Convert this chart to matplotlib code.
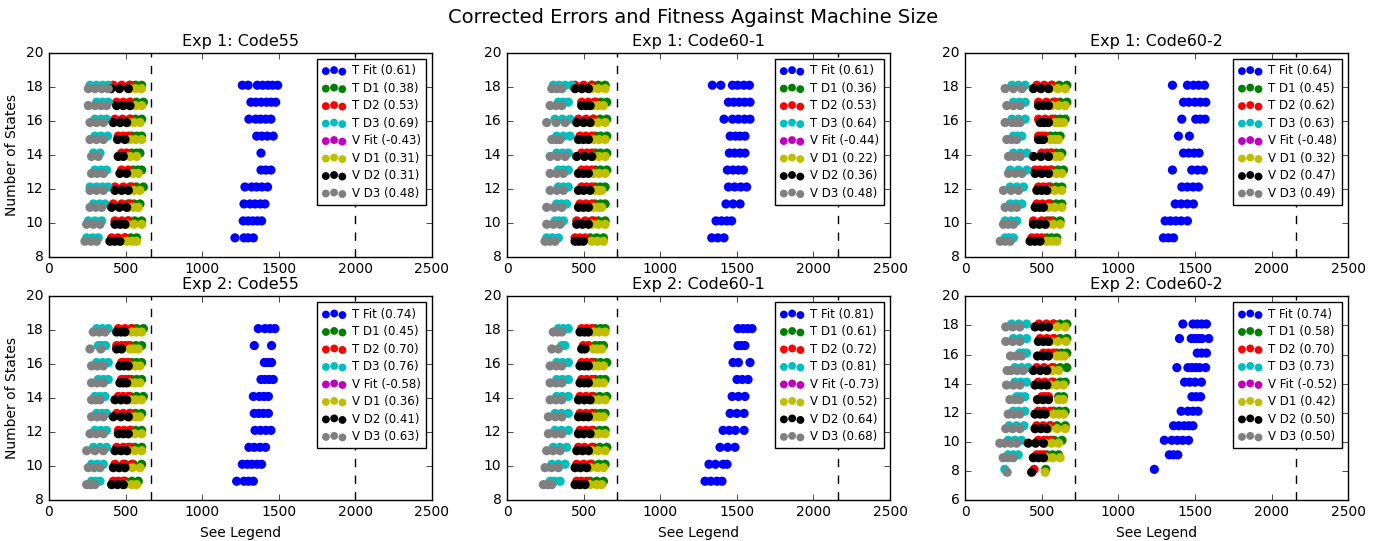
import matplotlib
matplotlib.use("Agg")
import matplotlib.pyplot as plt

# number of states on the y axis (one row of points per value)
states_9 = list(range(9, 19))
states_8 = list(range(8, 19))

series_names = ["T Fit", "T D1", "T D2", "T D3", "V Fit", "V D1", "V D2", "V D3"]
series_colors = ["b", "g", "r", "c", "m", "y", "k", "0.5"]

# machine sizes per row (rows go from the lowest state count upward)
exp1_code55 = {
    "T Fit": [[1214, 1273, 1300, 1334], [1268, 1300, 1330, 1360, 1388], [1273, 1312, 1345, 1380, 1410],
              [1279, 1323, 1355, 1390, 1427], [1384, 1415, 1449], [1384], [1356, 1390, 1425, 1464],
              [1305, 1349, 1380, 1415, 1449], [1318, 1350, 1385, 1420, 1450, 1480],
              [1262, 1300, 1360, 1395, 1430, 1460, 1493]],
    "T D1": [[496, 535, 572], [518, 560, 605], [518, 555, 594], [529, 570, 616], [550, 580, 605],
             [540, 570, 594], [540, 575, 605], [529, 565, 605], [529, 570, 616], [529, 565, 605]],
    "T D2": [[409, 450, 496], [431, 475, 518], [420, 475, 529], [431, 485, 540], [474, 518],
             [474, 507], [452, 485, 518], [431, 480, 529], [442, 485, 529], [420, 475, 529]],
    "T D3": [[246, 285, 322], [257, 300, 344], [290, 330, 366], [268, 310, 350, 387], [300, 340, 376],
             [290, 333], [300, 340, 383], [300, 340, 376], [311, 350, 387], [268, 310, 350, 387]],
    "V Fit": [],
    "V D1": [[474, 510, 545, 572], [507, 555, 605], [518, 550, 583], [518, 555, 594], [550, 583],
             [529, 572], [529, 565, 605], [518, 555, 594], [529, 565, 605], [529, 565, 605]],
    "V D2": [[398, 430, 463], [431, 465, 496], [409, 460, 507], [431, 475, 518], [463, 507],
             [452, 485], [448, 496], [420, 465, 507], [442, 485, 529], [405, 460, 518]],
    "V D3": [[235, 275, 311], [246, 290, 333], [268, 305, 344], [268, 310, 355], [278, 315, 355],
             [278, 322], [268, 310, 355], [268, 310, 355], [257, 300, 340, 376], [257, 300, 345, 387]],
}

exp1_code60_1 = {
    "T Fit": [[1336, 1375, 1416], [1364, 1400, 1435, 1466], [1429, 1475, 1521], [1445, 1485, 1525, 1564],
              [1438, 1475, 1510, 1543], [1451, 1485, 1520, 1553], [1456, 1490, 1520, 1553],
              [1416, 1471, 1510, 1550, 1586], [1445, 1480, 1515, 1550, 1586],
              [1340, 1395, 1471, 1505, 1545, 1582]],
    "T D1": [[542, 585, 629], [553, 595, 640], [575, 610, 640], [575, 608, 640], [575, 610, 651],
             [575, 610, 651], [575, 610, 651], [564, 608, 651], [575, 612, 651], [553, 595, 640]],
    "T D2": [[444, 475, 509], [455, 510, 564], [476, 515, 553], [487, 520, 553], [487, 520, 553],
             [487, 520, 553], [476, 515, 553], [466, 515, 564], [487, 530, 575], [444, 500, 553]],
    "T D3": [[259, 297, 335], [313, 340, 368], [324, 356, 389], [335, 368, 400], [335, 368, 400],
             [324, 362, 400], [324, 368, 411], [313, 362, 411], [335, 368, 400], [302, 340, 380, 422]],
    "V Fit": [],
    "V D1": [[553, 590, 629], [553, 595, 640], [564, 595, 618], [575, 600, 618], [564, 600, 640],
             [564, 600, 640], [564, 600, 640], [553, 595, 640], [564, 597, 629], [553, 595, 640]],
    "V D2": [[444, 470, 498], [455, 492, 531], [466, 498, 531], [466, 500, 542], [466, 498, 531],
             [455, 505, 553], [466, 498, 531], [455, 500, 542], [487, 515, 542], [444, 488, 531]],
    "V D3": [[248, 280, 313], [259, 302, 346], [259, 308, 357], [281, 325, 368], [281, 325, 368],
             [281, 330, 379], [292, 320, 346], [259, 320, 379], [281, 320, 357], [292, 325, 357]],
}

exp1_code60_2 = {
    "T Fit": [[1294, 1327, 1360], [1305, 1340, 1375, 1410, 1451], [1371, 1410, 1450, 1490],
              [1414, 1450, 1487, 1523], [1353, 1479, 1517, 1555], [1425, 1460, 1495, 1527],
              [1392, 1464], [1414, 1505, 1535, 1566], [1425, 1460, 1500, 1535, 1571],
              [1353, 1451, 1490, 1525, 1562]],
    "T D1": [[533, 565, 598], [533, 575, 620], [555, 595, 631], [555, 595, 631], [566, 605, 642],
             [555, 595, 631], [555, 588, 620], [587, 620, 653], [577, 620, 664], [566, 615, 664]],
    "T D2": [[435, 468, 500], [446, 500, 555], [468, 505, 544], [479, 511, 544], [457, 489, 522, 555],
             [500, 533, 566], [479, 500, 522], [479, 522, 566], [479, 530, 587], [468, 517, 566]],
    "T D3": [[261, 288, 315], [261, 300, 337], [294, 332, 370], [294, 338, 381], [294, 348, 403],
             [315, 360, 403], [315, 343, 370], [305, 348, 392], [315, 354, 392], [305, 348, 392]],
    "V Fit": [],
    "V D1": [[533, 565, 598], [533, 575, 620], [544, 585, 631], [544, 585, 631], [555, 595, 631],
             [555, 590, 620], [555, 582, 609], [587, 615, 642], [566, 610, 653], [555, 605, 653]],
    "V D2": [[424, 456, 489], [446, 484, 522], [457, 484, 511], [468, 500, 533], [457, 500, 544],
             [446, 495, 544], [479, 495, 511], [490, 517, 544], [479, 511, 544], [446, 495, 544]],
    "V D3": [[229, 262, 294], [250, 282, 315], [261, 300, 337], [250, 300, 348], [283, 326, 370],
             [283, 320, 359], [272, 305, 337], [261, 305, 332, 359], [272, 315, 359], [261, 315, 370]],
}

exp2_code55 = {
    "T Fit": [[1225, 1273, 1303, 1334], [1262, 1295, 1325, 1358, 1388], [1305, 1340, 1378, 1414],
              [1345, 1380, 1415, 1449], [1340, 1370, 1400, 1432], [1334, 1373, 1403, 1432],
              [1384, 1410, 1438, 1464], [1406, 1430, 1453], [1340, 1453], [1366, 1410, 1443, 1475]],
    "T D1": [[496, 540, 583], [496, 550, 605], [518, 560, 605], [529, 565, 605], [529, 565, 605],
             [529, 572, 616], [540, 572, 605], [540, 572, 605], [529, 567, 605], [540, 572, 616]],
    "T D2": [[420, 452, 485], [431, 485, 540], [442, 485, 529], [453, 490, 529], [442, 485, 529],
             [453, 485, 518], [474, 496, 518], [474, 496, 518], [442, 474, 496, 518], [453, 496, 540]],
    "T D3": [[278, 305, 333], [278, 316, 355], [290, 333, 376], [300, 338, 376], [311, 344, 376],
             [300, 333, 366], [322, 355, 387], [311, 350, 387], [322, 346, 370], [311, 350, 387]],
    "V Fit": [],
    "V D1": [[496, 540, 572], [496, 545, 594], [518, 560, 605], [518, 560, 605], [529, 562, 594],
             [529, 565, 605], [529, 562, 594], [529, 562, 594], [529, 556, 583], [540, 572, 605]],
    "V D2": [[409, 447, 485], [420, 458, 496], [431, 470, 507], [453, 485, 518], [420, 470, 518],
             [431, 470, 507], [463, 485, 507], [463, 490, 518], [442, 474], [442, 470, 496]],
    "V D3": [[246, 273, 300], [257, 295, 333], [246, 300, 355], [268, 310, 355], [278, 316, 355],
             [278, 305, 333], [278, 316, 355], [278, 316, 355], [268, 339], [289, 328, 366]],
}

exp2_code60_1 = {
    "T Fit": [[1292, 1330, 1370, 1403], [1318, 1360, 1410, 1436], [1390, 1440, 1488],
              [1410, 1450, 1490, 1547], [1456, 1500, 1547], [1469, 1510, 1553], [1501, 1535, 1573],
              [1475, 1510, 1586], [1508, 1530, 1553], [1508, 1540, 1570, 1599]],
    "T D1": [[542, 585, 629], [553, 600, 640], [564, 605, 651], [564, 605, 640], [575, 610, 640],
             [564, 605, 651], [575, 610, 640], [575, 610, 651], [575, 605, 629], [575, 610, 640]],
    "T D2": [[455, 485, 520], [455, 500, 542], [466, 505, 553], [476, 515, 553], [476, 515, 553],
             [476, 515, 553], [487, 520, 553], [487, 520, 553], [498, 531], [487, 520, 553]],
    "T D3": [[281, 310, 346], [292, 335, 379], [302, 345, 389], [313, 355, 400], [313, 355, 400],
             [324, 360, 400], [324, 362, 400], [324, 362, 400], [357, 378], [335, 368, 400]],
    "V Fit": [],
    "V D1": [[542, 585, 618], [542, 590, 629], [553, 595, 640], [564, 600, 640], [564, 600, 629],
             [564, 600, 640], [564, 597, 629], [564, 597, 629], [564, 590, 618], [564, 600, 640]],
    "V D2": [[444, 475, 509], [444, 480, 520], [455, 492, 531], [466, 500, 542], [466, 498, 531],
             [466, 505, 542], [476, 505, 531], [476, 505, 531], [487, 509], [476, 505, 531]],
    "V D3": [[237, 265, 292], [248, 290, 335], [259, 300, 346], [270, 315, 357], [270, 315, 357],
             [281, 320, 357], [281, 320, 357], [281, 320, 357], [292, 335], [302, 330, 357]],
}

exp2_code60_2 = {
    "T Fit": [[1235], [1333, 1360, 1388], [1300, 1349, 1385, 1420, 1458], [1360, 1395, 1430, 1460, 1487],
              [1410, 1454, 1487, 1520], [1480, 1508, 1537], [1432, 1465, 1500, 1542],
              [1382, 1454, 1480, 1505, 1531, 1570], [1515, 1545, 1575],
              [1399, 1476, 1500, 1525, 1546, 1590], [1421, 1487, 1515, 1545, 1575]],
    "T D1": [[526], [533, 570, 610], [533, 580, 632], [555, 600, 653], [577, 615, 653], [610, 642],
             [577, 620, 653], [577, 620, 664], [599, 630, 664], [577, 620, 664], [577, 620, 664]],
    "T D2": [[450], [467, 490, 511], [478, 515, 555], [467, 510, 555], [478, 515, 555], [500, 522, 544],
             [478, 520, 566], [467, 515, 566], [511, 545, 577], [489, 533, 577], [482, 530, 577]],
    "T D3": [[259], [281, 314, 347], [281, 325, 368], [287, 335, 384], [314, 350, 390], [336, 363, 390],
             [325, 363, 401], [325, 368, 412], [357, 380, 401], [314, 357, 401], [303, 350, 401]],
    "V Fit": [],
    "V D1": [[522], [533, 570, 620], [522, 565, 610], [544, 600, 653], [577, 610, 642], [610, 640],
             [555, 600, 642], [533, 570, 610], [599, 625, 647], [555, 605, 658], [544, 600, 653]],
    "V D2": [[434], [445, 478, 511], [412, 460, 511], [456, 495, 533], [456, 490, 522], [472, 508, 544],
             [456, 495, 533], [445, 490, 533], [472, 508, 544], [478, 511, 544], [456, 500, 544]],
    "V D3": [[274], [248, 281, 314], [226, 259, 298, 336], [265, 310, 357], [281, 318, 357],
             [292, 325, 357], [270, 314, 357], [274, 300, 340, 379], [296, 332, 368], [265, 310, 357],
             [265, 310, 357]],
}

# correlation shown in the legend for each series
corr_exp1_code55 = [0.61, 0.38, 0.53, 0.69, -0.43, 0.31, 0.31, 0.48]
corr_exp1_code60_1 = [0.61, 0.36, 0.53, 0.64, -0.44, 0.22, 0.36, 0.48]
corr_exp1_code60_2 = [0.64, 0.45, 0.62, 0.63, -0.48, 0.32, 0.47, 0.49]
corr_exp2_code55 = [0.74, 0.45, 0.70, 0.76, -0.58, 0.36, 0.41, 0.63]
corr_exp2_code60_1 = [0.81, 0.61, 0.72, 0.81, -0.73, 0.52, 0.64, 0.68]
corr_exp2_code60_2 = [0.74, 0.58, 0.70, 0.73, -0.52, 0.42, 0.50, 0.50]

# dashed reference sizes
vlines_code55 = [665, 1998]
vlines_code60 = [716, 2158]

panels = [
    ("Exp 1: Code55", exp1_code55, corr_exp1_code55, vlines_code55, states_9, (8, 20)),
    ("Exp 1: Code60-1", exp1_code60_1, corr_exp1_code60_1, vlines_code60, states_9, (8, 20)),
    ("Exp 1: Code60-2", exp1_code60_2, corr_exp1_code60_2, vlines_code60, states_9, (8, 20)),
    ("Exp 2: Code55", exp2_code55, corr_exp2_code55, vlines_code55, states_9, (8, 20)),
    ("Exp 2: Code60-1", exp2_code60_1, corr_exp2_code60_1, vlines_code60, states_9, (8, 20)),
    ("Exp 2: Code60-2", exp2_code60_2, corr_exp2_code60_2, vlines_code60, states_8, (6, 20)),
]

plt.style.use("classic")
plt.rcParams.update({"font.size": 10, "figure.facecolor": "white",
                     "savefig.facecolor": "white"})

fig, axes = plt.subplots(2, 3, figsize=(13.87, 5.41), dpi=100)
fig.subplots_adjust(left=0.0353, right=0.972, top=0.902, bottom=0.076,
                    wspace=0.196, hspace=0.196)

for i, (ax, (title, data, corr, vlines, states, ylim)) in enumerate(zip(axes.flat, panels)):
    for name, color, r in zip(series_names, series_colors, corr):
        off = 0.1 if name.startswith("T") else -0.1
        xs, ys = [], []
        for s, row in zip(states, data[name]):
            xs += row
            ys += [s + off] * len(row)
        ax.scatter(xs, ys, s=44, c=color, edgecolors="none", label=f"{name} ({r:.2f})")
    for v in vlines:
        ax.axvline(v, color="k", linestyle="--", linewidth=1)
    ax.set_xlim(0, 2500)
    ax.set_ylim(*ylim)
    ax.set_xticks([0, 500, 1000, 1500, 2000, 2500])
    ax.set_title(title, fontsize=11.5)
    ax.tick_params(labelsize=10)
    leg = ax.legend(loc="upper right", fontsize=8.5, scatterpoints=3, labelspacing=0.38,
                    handletextpad=0.5, borderpad=0.45, framealpha=1)
    for h in leg.legend_handles:
        h.set_sizes([32])
    if i % 3 == 0:
        ax.set_ylabel("Number of States", fontsize=10)
    if i >= 3:
        ax.set_xlabel("See Legend", fontsize=10)

fig.suptitle("Corrected Errors and Fitness Against Machine Size", fontsize=14, y=0.985)

fig.savefig("out.png", dpi=100)
